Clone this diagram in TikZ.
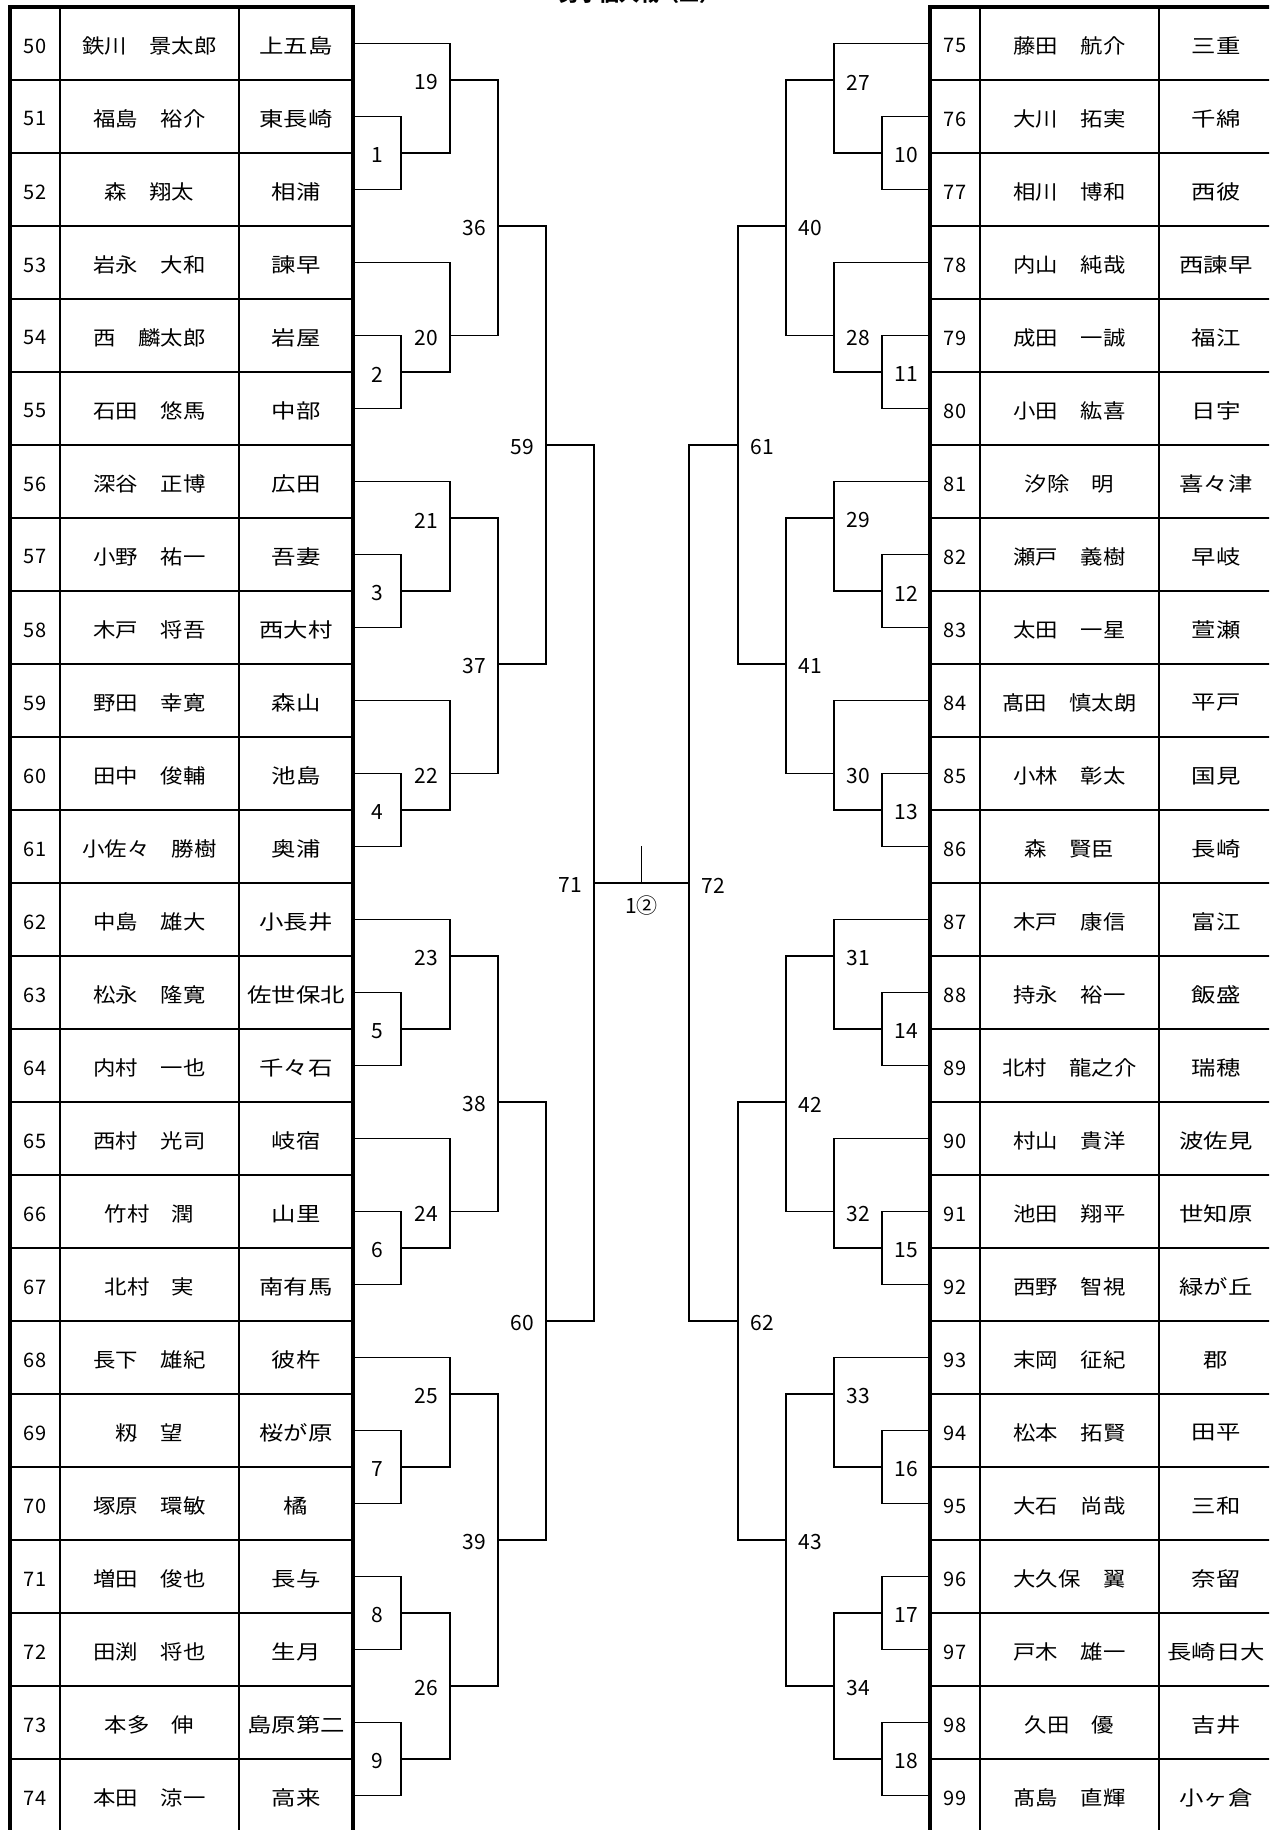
\documentclass[tikz,border=0pt]{standalone}
\usepackage{fontspec}
\setmainfont{Noto Sans CJK JP}
\newfontfamily\namefont{Noto Sans CJK JP}[FakeStretch=1.12]
\newfontfamily\schoolfont{Noto Sans CJK JP}[FakeStretch=1.22]
\usetikzlibrary{positioning,calc}

\tikzset{
  frame/.style={line width=2pt},
  gridline/.style={line width=1pt},
  bline/.style={line width=0.9pt},
  numcell/.style={font=\fontsize{10}{10}\selectfont,inner sep=0pt,yshift=-1.2pt},
  namecell/.style={font=\namefont\fontsize{10}{10}\selectfont,inner sep=0pt,yshift=-1.2pt},
  schoolcell/.style={font=\schoolfont\fontsize{10}{10}\selectfont,inner sep=0pt,yshift=-1.2pt},
  mlabel/.style={font=\fontsize{10.5}{10.5}\selectfont,inner sep=0pt,yshift=-1.2pt}
}

\begin{document}
\begin{tikzpicture}[x=0.5pt,y=-0.5pt]
\clip (0,0) rectangle (1269,1830);
\fill[white] (0,0) rectangle (1269,1830);

% the title, cut off at the top
\node[font=\bfseries\fontsize{10}{10}\selectfont,anchor=base] (title) at (639,1.5) {男子個人戦（二）};

% the left table
\foreach \i in {1,...,25}
  \draw[gridline] (10,7+73*\i) -- (353,7+73*\i);
\draw[gridline] (60,7) -- (60,1840);
\draw[gridline] (239,7) -- (239,1840);
\draw[frame] (10,1840) -- (10,7) -- (353,7) -- (353,1840);

% the players on the left
\foreach \n/\nm/\sc [count=\i from 0] in {50/鉄川　景太郎/上五島, 51/福島　裕介/東長崎,
  52/森　翔太/相浦, 53/岩永　大和/諫早, 54/西　麟太郎/岩屋, 55/石田　悠馬/中部,
  56/深谷　正博/広田, 57/小野　祐一/吾妻, 58/木戸　将吾/西大村, 59/野田　幸寛/森山,
  60/田中　俊輔/池島, 61/小佐々　勝樹/奥浦, 62/中島　雄大/小長井, 63/松永　隆寛/佐世保北,
  64/内村　一也/千々石, 65/西村　光司/岐宿, 66/竹村　潤/山里, 67/北村　実/南有馬,
  68/長下　雄紀/彼杵, 69/籾　望/桜が原, 70/塚原　環敏/橘, 71/増田　俊也/長与,
  72/田渕　将也/生月, 73/本多　伸/島原第二, 74/本田　涼一/高来}
{
  \node[numcell] (lnum\i) at (35,43.5+73*\i) {\n};
  \node[namecell] (lname\i) at (149.5,43.5+73*\i) {\nm};
  \node[schoolcell] (lschool\i) at (296,43.5+73*\i) {\sc};
  \coordinate (l\i) at (353,43.5+73*\i);
}

% the right table
\foreach \i in {1,...,25}
  \draw[gridline] (930,7+73*\i) -- (1280,7+73*\i);
\draw[gridline] (980,7) -- (980,1840);
\draw[gridline] (1159,7) -- (1159,1840);
\draw[frame] (930,1840) -- (930,7) -- (1280,7);

% the players on the right
\foreach \n/\nm/\sc [count=\i from 0] in {75/藤田　航介/三重, 76/大川　拓実/千綿,
  77/相川　博和/西彼, 78/内山　純哉/西諫早, 79/成田　一誠/福江, 80/小田　紘喜/日宇,
  81/汐除　明/喜々津, 82/瀬戸　義樹/早岐, 83/太田　一星/萱瀬, 84/髙田　慎太朗/平戸,
  85/小林　彰太/国見, 86/森　賢臣/長崎, 87/木戸　康信/富江, 88/持永　裕一/飯盛,
  89/北村　龍之介/瑞穂, 90/村山　貴洋/波佐見, 91/池田　翔平/世知原, 92/西野　智視/緑が丘,
  93/末岡　征紀/郡, 94/松本　拓賢/田平, 95/大石　尚哉/三和, 96/大久保　翼/奈留,
  97/戸木　雄一/長崎日大, 98/久田　優/吉井, 99/髙島　直輝/小ヶ倉}
{
  \node[numcell] (rnum\i) at (955,43.5+73*\i) {\n};
  \node[namecell] (rname\i) at (1069.5,43.5+73*\i) {\nm};
  \node[schoolcell] (rschool\i) at (1216,43.5+73*\i) {\sc};
  \coordinate (r\i) at (930,43.5+73*\i);
}

% the matches on the left
\foreach \m/\a/\b/\x/\o in {1/l1/l2/401/153, 19/l0/m1/450/80,
  2/l4/l5/401/372, 20/l3/m2/450/335.5, 36/m19/m20/498/226,
  3/l7/l8/401/591, 21/l6/m3/450/518,
  4/l10/l11/401/810, 22/l9/m4/450/773.5, 37/m21/m22/498/664,
  59/m36/m37/546/445,
  5/l13/l14/401/1029, 23/l12/m5/450/956,
  6/l16/l17/401/1248, 24/l15/m6/450/1211.5, 38/m23/m24/498/1102,
  7/l19/l20/401/1467, 25/l18/m7/450/1394,
  8/l21/l22/401/1613, 9/l23/l24/401/1759, 26/m8/m9/450/1686,
  39/m25/m26/498/1540, 60/m38/m39/546/1321,
  71/m59/m60/594/883}
{
  \coordinate (m\m) at (\x,\o);
  \draw[bline] (\a) -| (m\m) |- (\b);
  \node[mlabel] (t\m) at ([xshift=-12pt]m\m) {\m};
}

% the matches on the right
\foreach \m/\a/\b/\x/\o in {10/r1/r2/882/153, 27/r0/m10/834/80,
  11/r4/r5/882/372, 28/r3/m11/834/335.5, 40/m27/m28/786/226,
  12/r7/r8/882/591, 29/r6/m12/834/518,
  13/r10/r11/882/810, 30/r9/m13/834/773.5, 41/m29/m30/786/664,
  61/m40/m41/738/445,
  14/r13/r14/882/1029, 31/r12/m14/834/956,
  15/r16/r17/882/1248, 32/r15/m15/834/1211.5, 42/m31/m32/786/1102,
  16/r19/r20/882/1467, 33/r18/m16/834/1394,
  17/r21/r22/882/1613, 18/r23/r24/882/1759, 34/m17/m18/834/1686,
  43/m33/m34/786/1540, 62/m42/m43/738/1321,
  72/m61/m62/689/883}
{
  \coordinate (m\m) at (\x,\o);
  \draw[bline] (\a) -| (m\m) |- (\b);
  \node[mlabel] (t\m) at ([xshift=12pt]m\m) {\m};
}

% the final
\coordinate (final) at (641.5,883);
\coordinate (stub) at (641.5,846);
\draw[bline] (m71) -- (m72);
\draw[bline] (final) -- (stub);
\node[mlabel] (result) at (641.5,903) {1②};
\end{tikzpicture}
\end{document}
